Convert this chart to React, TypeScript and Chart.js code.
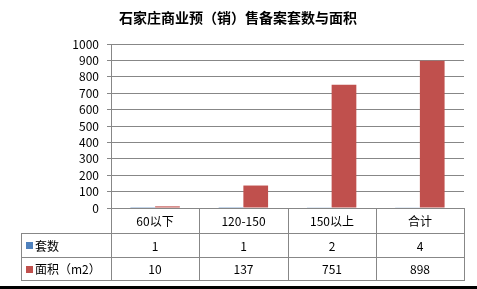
import React, { useEffect, useRef } from 'react';
import { Chart, registerables } from 'chart.js';

Chart.register(...registerables);

const chartTitle = '石家庄商业预（销）售备案套数与面积';
const categories = ['60以下', '120-150', '150以上', '合计'];
const seriesNames = ['套数', '面积（m2）'];
const countValues = [1, 1, 2, 4];
const areaValues = [10, 137, 751, 898];
const yMin = 0;
const yMax = 1000;
const yStep = 100;
const seriesColors = ['#4F81BD', '#C0504D'];

const FONT = '"Noto Sans CJK SC", "Noto Sans", sans-serif';
const GRID = '#878787';

const tablePlugin = {
  id: 'dataTable',
  beforeDraw(chart: any) {
    const ctx = chart.ctx;
    ctx.save();
    ctx.fillStyle = '#ffffff';
    ctx.fillRect(0, 0, chart.width, chart.height);
    ctx.restore();
  },
  afterDraw(chart: any) {
    const ctx = chart.ctx;
    const area = chart.chartArea;
    const xs = chart.scales.x;
    const n = categories.length;
    const w = (area.right - area.left) / n;
    const edges: number[] = [];
    for (let i = 0; i < n; i++) edges.push(Math.round(xs.getPixelForValue(i) - w / 2));
    edges.push(Math.round(area.right));
    const tableLeft = 21;
    const y0 = Math.round(area.bottom);
    const y1 = y0 + 25;
    const y2 = y1 + 24;
    const y3 = y2 + 23;

    ctx.save();
    ctx.fillStyle = '#000';
    ctx.font = `bold 14px ${FONT}`;
    ctx.textAlign = 'center';
    ctx.textBaseline = 'middle';
    ctx.fillText(chartTitle, 238, 18);

    ctx.strokeStyle = GRID;
    ctx.lineWidth = 1;
    ctx.beginPath();
    const h = (x1: number, x2: number, y: number) => {
      ctx.moveTo(x1, y + 0.5);
      ctx.lineTo(x2 + 1, y + 0.5);
    };
    const v = (x: number, ya: number, yb: number) => {
      ctx.moveTo(x + 0.5, ya);
      ctx.lineTo(x + 0.5, yb + 1);
    };
    h(edges[0], edges[n], y0);
    h(tableLeft, edges[n], y1);
    h(tableLeft, edges[n], y2);
    h(tableLeft, edges[n], y3);
    v(tableLeft, y1, y3);
    for (let i = 0; i <= n; i++) v(edges[i], y0, y3);
    ctx.stroke();

    ctx.fillStyle = '#000';
    ctx.font = `12px ${FONT}`;
    ctx.textAlign = 'center';
    ctx.textBaseline = 'middle';
    const rows = [countValues, areaValues];
    const rowMid = [(y1 + y2) / 2 + 1, (y2 + y3) / 2 + 1];
    for (let i = 0; i < n; i++) {
      const cx = (edges[i] + edges[i + 1]) / 2;
      ctx.fillText(categories[i], cx, (y0 + y1) / 2 + 1);
      rows.forEach((r, k) => ctx.fillText(String(r[i]), cx, rowMid[k]));
    }
    ctx.textAlign = 'left';
    seriesNames.forEach((name, k) => {
      ctx.fillStyle = seriesColors[k];
      ctx.fillRect(tableLeft + 5, Math.round(rowMid[k]) - 4, 7, 7);
      ctx.fillStyle = '#000';
      ctx.fillText(name, tableLeft + 14, rowMid[k]);
    });

    ctx.fillStyle = '#000';
    ctx.fillRect(0, chart.height - 3, chart.width, 3);
    ctx.restore();
  },
};

export default function App() {
  const ref = useRef<HTMLCanvasElement | null>(null);
  useEffect(() => {
    if (!ref.current) return;
    const chart = new Chart(ref.current, {
      type: 'bar',
      data: {
        labels: categories,
        datasets: [
          { label: seriesNames[0], data: countValues, backgroundColor: seriesColors[0] },
          { label: seriesNames[1], data: areaValues, backgroundColor: seriesColors[1] },
        ],
      },
      options: {
        responsive: false,
        animation: false,
        devicePixelRatio: 1,
        layout: { padding: { left: 0, right: 13, top: 44, bottom: 81 } },
        datasets: { bar: { categoryPercentage: 0.56, barPercentage: 1 } },
        plugins: {
          legend: { display: false },
          title: { display: false },
          tooltip: { enabled: false },
        },
        scales: {
          x: { display: false },
          y: {
            min: yMin,
            max: yMax,
            ticks: {
              stepSize: yStep,
              autoSkip: false,
              color: '#000',
              font: { family: FONT, size: 12 },
              padding: 8,
              callback: (value: any) => String(value),
            },
            grid: { color: GRID, tickLength: 4, drawTicks: true },
            border: { color: GRID },
            afterFit(scale: any) {
              scale.width = 111;
            },
          },
        },
      },
      plugins: [tablePlugin],
    } as any);
    return () => chart.destroy();
  }, []);
  return (
    <div style={{ position: 'fixed', left: 0, top: 0, width: 477, height: 289, background: '#fff' }}>
      <canvas ref={ref} width={477} height={289} style={{ display: 'block' }} />
    </div>
  );
}
